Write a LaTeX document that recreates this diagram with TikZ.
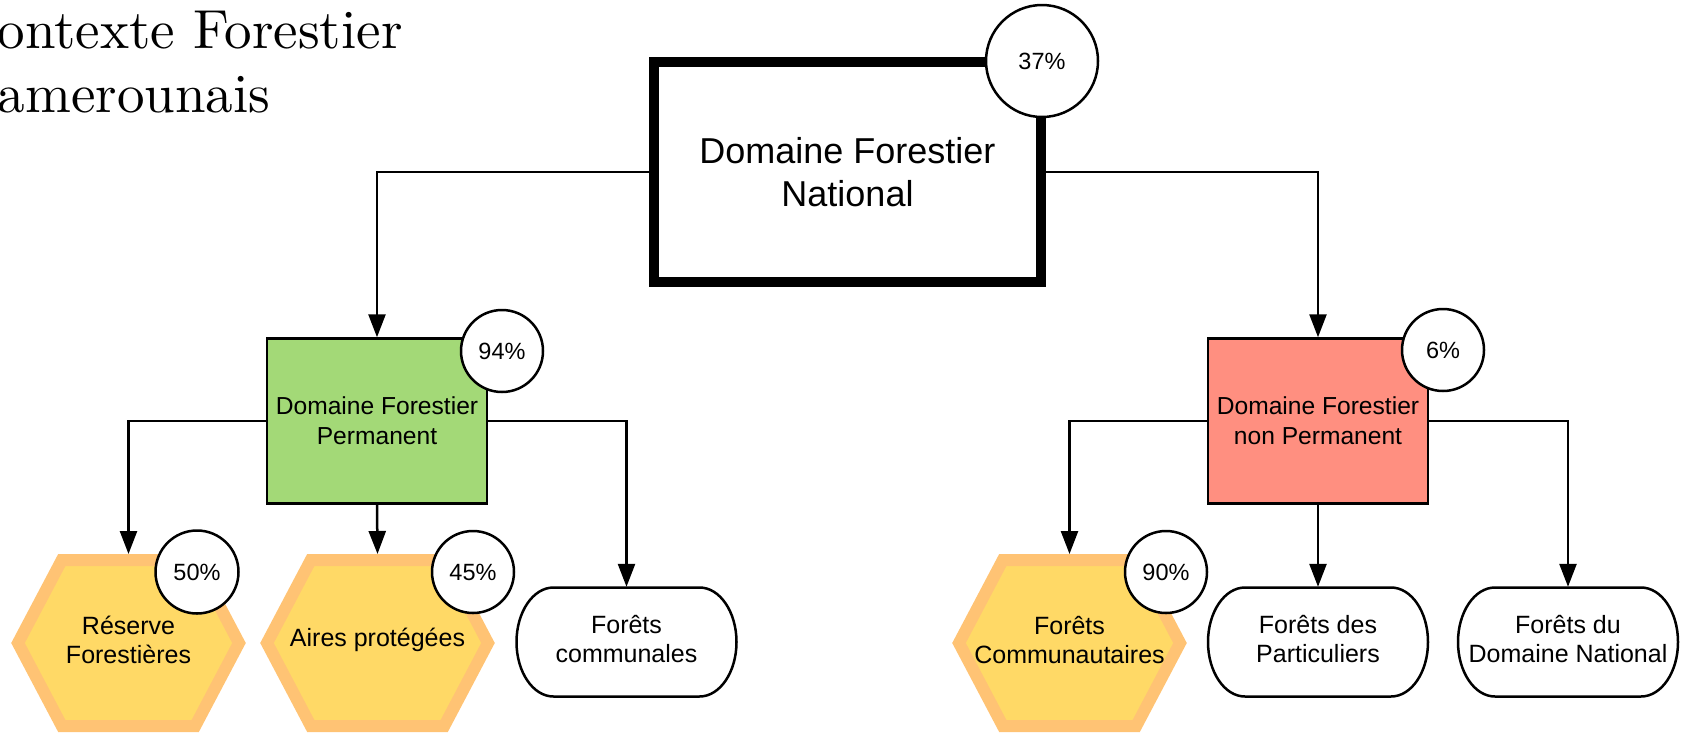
\documentclass[tikz,border=0pt]{standalone}
\usepackage{fontspec}
\newfontfamily\lib{Liberation Sans}
\newfontfamily\titlefont{lmroman10-regular.otf}
\usetikzlibrary{arrows.meta,backgrounds}
\definecolor{greenbox}{HTML}{A3D977}
\definecolor{redbox}{HTML}{FF8F80}
\definecolor{hexfill}{HTML}{FFD966}
\definecolor{hexline}{HTML}{FFC374}
\tikzset{
  conn/.style={line width=2.5pt,draw=black},
  arr/.style={conn,-{Triangle[length=23pt,width=17pt]}},
  mainbox/.style={draw=black,line width=10pt,fill=white,minimum width=387pt,minimum height=220pt,inner sep=0pt,align=center,font=\lib\fontsize{36}{43}\selectfont},
  subbox/.style={draw=black,line width=2.5pt,minimum width=220pt,minimum height=165pt,inner sep=0pt,align=center,font=\lib\fontsize{24.6}{30}\selectfont},
  hexnode/.style={minimum width=235pt,minimum height=172pt,inner sep=0pt,outer sep=0pt,align=center,font=\lib\fontsize{25}{29}\selectfont},
  stadnode/.style={minimum width=221pt,minimum height=104pt,inner sep=0pt,align=center,font=\lib\fontsize{25}{29}\selectfont},
  hexshape/.style={fill=hexfill,draw=hexline,line width=12pt,line join=miter},
  stadshape/.style={fill=white,draw=black,line width=2.5pt},
  pct/.style={circle,draw=black,fill=white,line width=2.5pt,inner sep=0pt,font=\lib\fontsize{23.5}{28}\selectfont},
  titletext/.style={anchor=base west,inner sep=0pt,font=\titlefont\fontsize{55}{66}\selectfont}
}
\begin{document}
\begin{tikzpicture}[x=1pt,y=-1pt]
\useasboundingbox (0,0) rectangle (1687,732);
% title
\node[titletext] (t1) at (-42,48) {Contexte Forestier};
\node[titletext] (t2) at (-42,112) {Camerounais};
% main
\node[mainbox] (main) at (847.5,172) {Domaine Forestier\\National};
\node[subbox,fill=greenbox] (dfp) at (377,421) {Domaine Forestier\\Permanent};
\node[subbox,fill=redbox] (dfnp) at (1318,421) {Domaine Forestier\\non Permanent};
% leaves
\node[hexnode] (res) at (128.5,640) {Réserve\\Forestières};
\node[hexnode] (aires) at (377.5,640) {Aires protégées};
\node[stadnode] (fcom) at (626.5,639) {Forêts\\communales};
\node[hexnode] (fcomm) at (1069.5,640) {Forêts\\Communautaires};
\node[stadnode] (part) at (1318,639) {Forêts des\\Particuliers};
\node[stadnode] (fdn) at (1568,639) {Forêts du\\Domaine National};
\begin{scope}[on background layer]
\foreach \n in {res,aires,fcomm}{
  \draw[hexshape,shift={(\n.center)}] (-110.5,3) -- (-66.7,-80) -- (66.7,-80) -- (110.5,3) -- (66.7,86) -- (-66.7,86) -- cycle;
}
\foreach \n in {fcom,part,fdn}{
  \draw[stadshape,shift={(\n.center)}] (-73,-51.5) -- (73,-51.5) .. controls (93.4,-51.5) and (110,-27.1) .. (110,3) .. controls (110,33.1) and (93.4,57.5) .. (73,57.5) -- (-73,57.5) .. controls (-93.4,57.5) and (-110,33.1) .. (-110,3) .. controls (-110,-27.1) and (-93.4,-51.5) .. (-73,-51.5) -- cycle;
}
\end{scope}
% connectors
\draw[arr] (main.west) -| (dfp.north);
\draw[arr] (main.east) -| (dfnp.north);
\draw[arr] (dfp.west) -| (res.north);
\draw[arr] (dfp.south) -- (aires.north);
\draw[arr] (dfp.east) -| (fcom.north);
\draw[arr] (dfnp.west) -| (fcomm.north);
\draw[arr] (dfnp.south) -- (part.north);
\draw[arr] (dfnp.east) -| (fdn.north);
% percentages
\node[pct,minimum size=112pt] (p37) at (1042,61) {37\%};
\node[pct,minimum size=82pt] (p94) at (502,351) {94\%};
\node[pct,minimum size=82pt] (p6) at (1443,350) {6\%};
\node[pct,minimum size=83pt] (p50) at (197,572) {50\%};
\node[pct,minimum size=82pt] (p45) at (473,572) {45\%};
\node[pct,minimum size=82pt] (p90) at (1166,572) {90\%};
\end{tikzpicture}
\end{document}
